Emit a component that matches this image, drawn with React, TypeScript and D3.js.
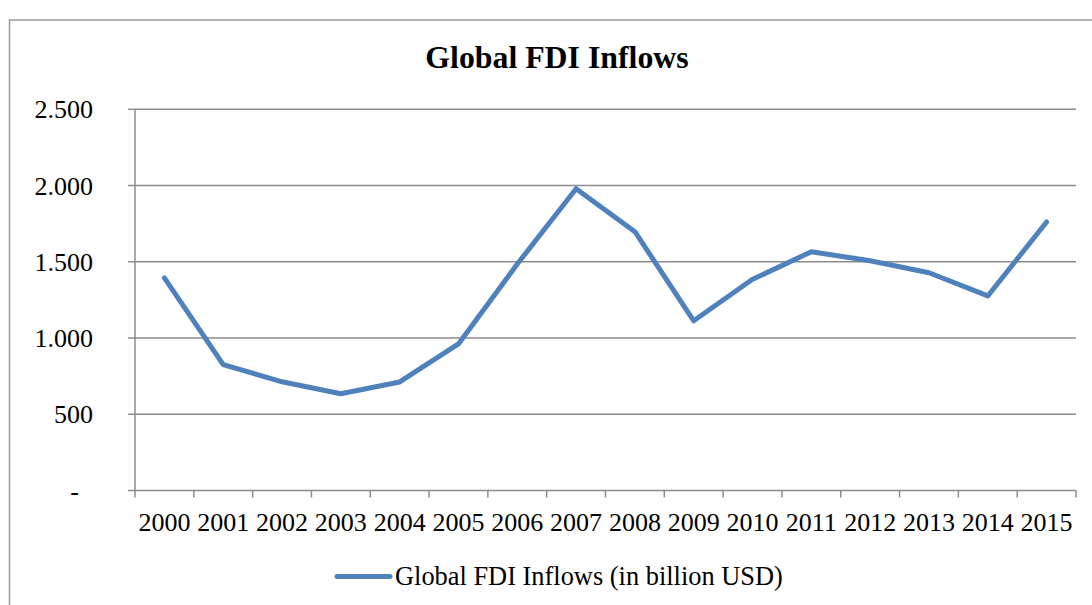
import React from "react";
import * as d3 from "d3";

const years = ["2000","2001","2002","2003","2004","2005","2006","2007","2008","2009","2010","2011","2012","2013","2014","2015"];
const fdiInflows = [1395, 825, 713, 635, 712, 961, 1485, 1979, 1697, 1113, 1385, 1566, 1507, 1428, 1276, 1761];
const yTicks = [0, 500, 1000, 1500, 2000, 2500];
const yTickLabels = ["-", "500", "1.000", "1.500", "2.000", "2.500"];
const title = "Global FDI Inflows";
const seriesName = "Global FDI Inflows (in billion USD)";

const W = 1092, H = 605;
const left = 135, right = 1076, top = 109.3, bottom = 490.5;
const gridColor = "#8c8c8c";
const lineColor = "#4F81BD";
const font = "'Liberation Serif', 'Times New Roman', serif";

export default function App() {
  const x = d3.scaleBand<string>().domain(years).range([left, right]).padding(0);
  const y = d3.scaleLinear().domain([0, 2500]).range([bottom, top]);
  const bw = x.bandwidth();
  const line = d3.line<number>()
    .x((_, i) => (x(years[i]) as number) + bw / 2)
    .y((d) => y(d));
  const boundaries = years.map((yr) => x(yr) as number).concat([right]);

  return (
    <svg width={W} height={H} style={{ position: "absolute", left: 0, top: 0, background: "#fff" }}>
      <rect x={9.5} y={20} width={W + 20} height={H + 20} fill="#fff" stroke="#9a9a9a" strokeWidth={1.5} />
      <text x={557} y={68} textAnchor="middle" fontFamily={font} fontWeight="bold" fontSize={31.8} fill="#000">{title}</text>
      {yTicks.map((t, i) => (
        <g key={t}>
          {t > 0 && <line x1={left} x2={right} y1={y(t)} y2={y(t)} stroke={gridColor} strokeWidth={1.5} />}
          <line x1={128} x2={left} y1={y(t)} y2={y(t)} stroke={gridColor} strokeWidth={1.5} />
          <text x={t === 0 ? 79 : 93} y={y(t) + 9} textAnchor="end" fontFamily={font} fontSize={26} fill="#000">{yTickLabels[i]}</text>
        </g>
      ))}
      <line x1={left} x2={left} y1={top} y2={bottom} stroke={gridColor} strokeWidth={1.5} />
      <line x1={left} x2={right} y1={bottom} y2={bottom} stroke={gridColor} strokeWidth={1.5} />
      {boundaries.map((b, i) => (
        <line key={i} x1={b} x2={b} y1={bottom} y2={bottom + 7} stroke={gridColor} strokeWidth={1.5} />
      ))}
      {years.map((yr) => (
        <text key={yr} x={(x(yr) as number) + bw / 2} y={531} textAnchor="middle" fontFamily={font} fontSize={26} fill="#000">{yr}</text>
      ))}
      <path d={line(fdiInflows) || ""} fill="none" stroke={lineColor} strokeWidth={5} strokeLinejoin="round" strokeLinecap="round" />
      <line x1={337} x2={390} y1={576.5} y2={576.5} stroke={lineColor} strokeWidth={5} strokeLinecap="round" />
      <text x={395} y={585} fontFamily={font} fontSize={26.4} fill="#000">{seriesName}</text>
    </svg>
  );
}
